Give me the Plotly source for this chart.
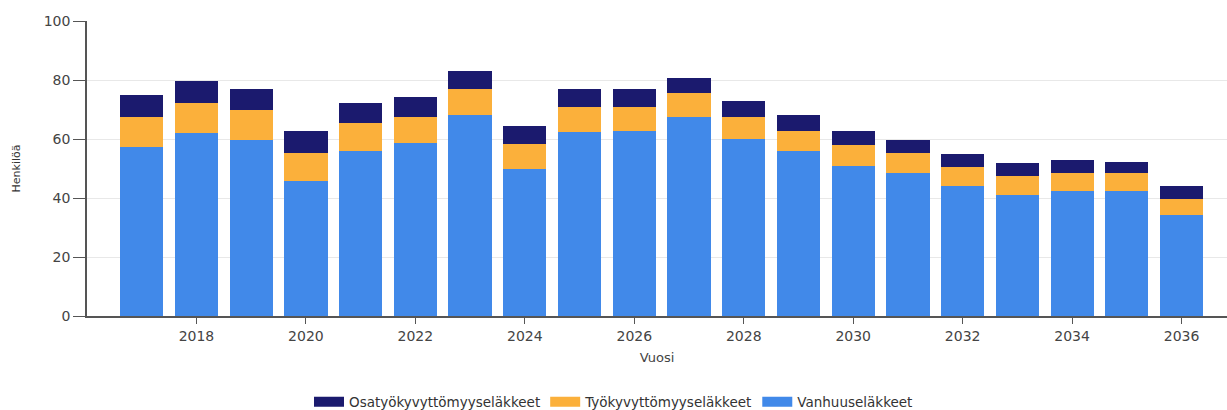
import plotly.graph_objects as go

years = list(range(2017, 2037))
vanhuus = [57.2, 61.9, 59.8, 45.8, 55.9, 58.5, 68.0, 49.8, 62.5, 62.8,
           67.6, 60.1, 55.9, 50.9, 48.4, 44.1, 41.0, 42.4, 42.4, 34.1]
tyokyvyttomyys = [10.4, 10.4, 9.9, 9.5, 9.5, 9.1, 9.1, 8.6, 8.5, 8.2,
                  7.9, 7.4, 6.9, 7.0, 6.7, 6.4, 6.6, 6.0, 6.0, 5.6]
osatyokyvyttomyys = [7.4, 7.5, 7.1, 7.4, 6.9, 6.5, 6.1, 6.1, 5.8, 5.8,
                     5.3, 5.3, 5.2, 4.9, 4.6, 4.3, 4.2, 4.4, 3.8, 4.3]
xticks = list(range(2018, 2037, 2))
yticks = [0, 20, 40, 60, 80, 100]

series = [
    ("Vanhuuseläkkeet", vanhuus, "#4189e9"),
    ("Työkyvyttömyyseläkkeet", tyokyvyttomyys, "#fbb03b"),
    ("Osatyökyvyttömyyseläkkeet", osatyokyvyttomyys, "#1b1a6e"),
]

font = "DejaVu Sans, Verdana, sans-serif"

fig = go.Figure()
for name, vals, col in series:
    fig.add_trace(go.Bar(x=years, y=vals, name=name, showlegend=False,
                         marker=dict(color=col, line=dict(width=0))))
# legend entries drawn as wide rectangles (thick line segments)
for name, vals, col in reversed(series):
    fig.add_trace(go.Scatter(x=[None], y=[None], mode="lines", name=name,
                             line=dict(color=col, width=12)))

fig.update_layout(
    width=1227, height=410,
    barmode="stack", bargap=0.21,
    margin=dict(l=87, r=0, t=21, b=94),
    plot_bgcolor="white", paper_bgcolor="white",
    font=dict(family=font, size=14, color="#444"),
    legend=dict(orientation="h", x=0.5, xanchor="center", xref="container",
                y=0.0195, yanchor="middle", yref="container",
                traceorder="normal", itemwidth=30,
                font=dict(size=13.5, color="#333")),
    xaxis=dict(range=[2016, 2036.83], tickmode="array", tickvals=xticks,
               ticks="outside", ticklen=6, tickcolor="#555", showgrid=False,
               showline=True, linecolor="#555", linewidth=1.5, automargin=False,
               title=dict(text="Vuosi", font=dict(size=13, color="#444"), standoff=10),
               tickfont=dict(size=14, color="#444")),
    yaxis=dict(range=[0, 100], tickmode="array", tickvals=yticks,
               ticks="outside", ticklen=12, tickcolor="#555",
               showgrid=True, gridcolor="#e8e8e8", zeroline=False,
               showline=True, linecolor="#555", linewidth=1.5, automargin=False,
               title=dict(text="Henkilöä", font=dict(size=11, color="#333"), standoff=21),
               tickfont=dict(size=14, color="#444")),
)

fig.write_html("out.html")
